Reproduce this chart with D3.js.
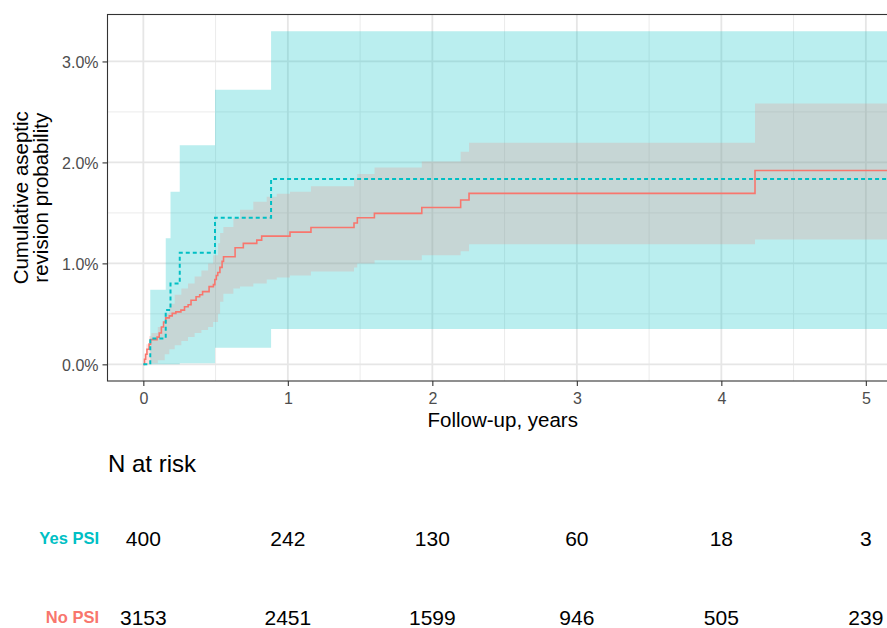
<!DOCTYPE html>
<html>
<head>
<meta charset="utf-8">
<script src="https://cdn.jsdelivr.net/npm/d3@7"></script>
<style>
  body { margin: 0; background: #fff; }
  svg text { font-family: "Liberation Sans", Arial, sans-serif; }
</style>
</head>
<body>
<div id="chart"></div>
<script>
// Cumulative incidence curves (time in years, value in %)
const timeTicks = [0, 1, 2, 3, 4, 5];
const probTicks = [0, 1, 2, 3];

// Yes PSI (teal, dashed) — estimate and its confidence band share the same steps
const yesTime  = [0, 0.048, 0.155, 0.188, 0.252, 0.496, 0.884, 5.3];
const yesEst   = [0, 0.257, 0.537, 0.80, 1.105, 1.452, 1.835, 1.835];
const yesLower = [0, 0.0,   0.0,   0.0,  0.01,  0.165, 0.35,  0.35];
const yesUpper = [0, 0.74,  1.25,  1.71, 2.17,  2.72,  3.30,  3.30];

// No PSI (red, solid) estimate
const noTime = [0, 0.008, 0.016, 0.025, 0.04, 0.05, 0.095, 0.11, 0.125, 0.14, 0.155, 0.18, 0.2,
  0.225, 0.26, 0.285, 0.31, 0.33, 0.365, 0.39, 0.41, 0.455, 0.485, 0.495, 0.505, 0.515, 0.53,
  0.545, 0.555, 0.635, 0.692, 0.785, 0.819, 1.015, 1.16, 1.458, 1.481, 1.599, 1.927, 2.196,
  2.254, 4.233, 5.3];
const noEst = [0, 0.05, 0.10, 0.15, 0.20, 0.245, 0.27, 0.31, 0.37, 0.42, 0.46, 0.48, 0.505,
  0.52, 0.537, 0.57, 0.59, 0.635, 0.67, 0.69, 0.72, 0.77, 0.79, 0.84, 0.88, 0.91, 0.96,
  1.02, 1.065, 1.155, 1.198, 1.23, 1.27, 1.31, 1.356, 1.40, 1.452, 1.495, 1.554, 1.627,
  1.693, 1.92, 1.92];

// No PSI confidence band
const noBandTime = [0, 0.008, 0.02, 0.04, 0.056, 0.1, 0.148, 0.18, 0.217, 0.263, 0.309, 0.355,
  0.402, 0.448, 0.483, 0.517, 0.531, 0.554, 0.623, 0.669, 0.761, 0.854, 0.923, 1.015, 1.16,
  1.458, 1.48, 1.6, 1.927, 2.196, 2.254, 4.233, 5.3];
const noLower = [0, 0, 0, 0, 0.01, 0.04, 0.10, 0.15, 0.19, 0.23, 0.27, 0.31,
  0.34, 0.37, 0.42, 0.50, 0.62, 0.70, 0.75, 0.77, 0.80, 0.84, 0.86, 0.88, 0.92,
  0.96, 1.0, 1.03, 1.08, 1.12, 1.19, 1.237, 1.237];
const noUpper = [0, 0.10, 0.20, 0.28, 0.31, 0.37, 0.50, 0.60, 0.69, 0.75, 0.80, 0.87,
  0.93, 1.0, 1.08, 1.20, 1.30, 1.36, 1.45, 1.53, 1.61, 1.66, 1.69, 1.71, 1.765,
  1.84, 1.884, 1.95, 2.01, 2.105, 2.194, 2.584, 2.584];

// Number at risk table
const strata = ['Yes PSI', 'No PSI'];
const riskYes = [400, 242, 130, 60, 18, 3];
const riskNo = [3153, 2451, 1599, 946, 505, 239];

const teal = '#00BFC4';
const red = '#F8766D';

const W = 887, H = 628;
const panel = { left: 107.5, top: 14.5, bottom: 381 };

const svg = d3.select('#chart').append('svg')
    .attr('width', W)
    .attr('height', H);

// Scales (ggplot style 5% expansion)
const x = d3.scaleLinear().domain([-0.248, 5.21]).range([panel.left, panel.left + 5.458 * 144.5]);
const y = d3.scaleLinear().domain([-0.165, 3.465]).range([panel.bottom, panel.top]);
const panelRight = x.range()[1];

svg.append('defs').append('clipPath')
    .attr('id', 'clip')
    .append('rect')
    .attr('x', panel.left)
    .attr('y', panel.top)
    .attr('width', panelRight - panel.left)
    .attr('height', panel.bottom - panel.top);

// Grid: minor then major
const minorX = d3.range(-0.5, 5.6, 1).filter(v => v > x.domain()[0]);
const minorY = [0.5, 1.5, 2.5];
const grid = svg.append('g').attr('clip-path', 'url(#clip)');

grid.selectAll('.minor-x').data(minorX).enter().append('line')
    .attr('x1', d => x(d)).attr('x2', d => x(d))
    .attr('y1', panel.top).attr('y2', panel.bottom)
    .attr('stroke', '#ebebeb').attr('stroke-width', 1);

grid.selectAll('.minor-y').data(minorY).enter().append('line')
    .attr('x1', panel.left).attr('x2', panelRight)
    .attr('y1', d => y(d)).attr('y2', d => y(d))
    .attr('stroke', '#ebebeb').attr('stroke-width', 1);

grid.selectAll('.major-x').data(timeTicks).enter().append('line')
    .attr('x1', d => x(d)).attr('x2', d => x(d))
    .attr('y1', panel.top).attr('y2', panel.bottom)
    .attr('stroke', '#e6e6e6').attr('stroke-width', 1.8);

grid.selectAll('.major-y').data(probTicks).enter().append('line')
    .attr('x1', panel.left).attr('x2', panelRight)
    .attr('y1', d => y(d)).attr('y2', d => y(d))
    .attr('stroke', '#e6e6e6').attr('stroke-width', 1.8);

// Bands and curves
const plot = svg.append('g').attr('clip-path', 'url(#clip)');

const yesRows = yesTime.map((t, i) => ({ t, est: yesEst[i], lo: yesLower[i], hi: yesUpper[i] }));
const noRows = noTime.map((t, i) => ({ t, est: noEst[i] }));
const noBand = noBandTime.map((t, i) => ({ t, lo: noLower[i], hi: noUpper[i] }));

const band = d3.area()
    .x(d => x(d.t))
    .y0(d => y(d.lo))
    .y1(d => y(d.hi))
    .curve(d3.curveStepAfter);

const step = d3.line()
    .x(d => x(d.t))
    .y(d => y(d.est))
    .curve(d3.curveStepAfter);

plot.append('path')
    .datum(yesRows)
    .attr('fill', teal)
    .attr('fill-opacity', 0.27)
    .attr('d', band);

plot.append('path')
    .datum(noBand)
    .attr('fill', red)
    .attr('fill-opacity', 0.2)
    .attr('d', band);

plot.append('path')
    .datum(noRows)
    .attr('fill', 'none')
    .attr('stroke', red)
    .attr('stroke-width', 1.6)
    .attr('d', step);

plot.append('path')
    .datum(yesRows)
    .attr('fill', 'none')
    .attr('stroke', teal)
    .attr('stroke-width', 2)
    .attr('stroke-dasharray', '4,3')
    .attr('d', step);

// Panel border
svg.append('rect')
    .attr('x', panel.left)
    .attr('y', panel.top)
    .attr('width', panelRight - panel.left)
    .attr('height', panel.bottom - panel.top)
    .attr('fill', 'none')
    .attr('stroke', '#333333')
    .attr('stroke-width', 1.1);

// Axes
const xAxis = svg.append('g')
    .attr('transform', `translate(0,${panel.bottom})`)
    .call(d3.axisBottom(x).tickValues(timeTicks).tickSize(5).tickPadding(4).tickFormat(d3.format('d')));

const yAxis = svg.append('g')
    .attr('transform', `translate(${panel.left},0)`)
    .call(d3.axisLeft(y).tickValues(probTicks).tickSize(5).tickPadding(4).tickFormat(d => d.toFixed(1) + '%'));

[xAxis, yAxis].forEach(a => {
    a.select('.domain').remove();
    a.selectAll('.tick line').attr('stroke', '#333333').attr('stroke-width', 1.1);
    a.selectAll('.tick text')
        .attr('fill', '#4d4d4d')
        .style('font-size', '16px')
        .style('font-family', '"Liberation Sans", Arial, sans-serif');
});
xAxis.selectAll('.tick text').attr('dy', '0.85em');
yAxis.selectAll('.tick text').attr('dy', '0.36em');

// Axis titles
svg.append('text')
    .attr('x', (panel.left + 897) / 2 + 0.5)
    .attr('y', 427)
    .attr('text-anchor', 'middle')
    .style('font-size', '20.5px')
    .attr('fill', '#000')
    .text('Follow-up, years');

const yTitle = svg.append('text')
    .attr('transform', `translate(28,${(panel.top + panel.bottom) / 2}) rotate(-90)`)
    .attr('text-anchor', 'middle')
    .style('font-size', '20.5px')
    .attr('fill', '#000');
yTitle.append('tspan').attr('x', 0).attr('dy', 0).text('Cumulative aseptic');
yTitle.append('tspan').attr('x', 0).attr('dy', 19.5).text('revision probability');

// Risk table
svg.append('text')
    .attr('x', 108)
    .attr('y', 472)
    .style('font-size', '24px')
    .attr('fill', '#000')
    .text('N at risk');

const riskRows = [
    { label: strata[0], color: teal, values: riskYes, y: 546 },
    { label: strata[1], color: red, values: riskNo, y: 625 }
];

riskRows.forEach(row => {
    svg.append('text')
        .attr('x', 99)
        .attr('y', row.y - 2)
        .attr('text-anchor', 'end')
        .style('font-size', '16.5px')
        .style('font-weight', 'bold')
        .attr('fill', row.color)
        .text(row.label);

    svg.selectAll(null)
        .data(row.values)
        .enter()
        .append('text')
        .attr('x', (d, i) => x(timeTicks[i]))
        .attr('y', row.y)
        .attr('text-anchor', 'middle')
        .style('font-size', '21px')
        .attr('fill', '#000')
        .text(d => d);
});
</script>
</body>
</html>
